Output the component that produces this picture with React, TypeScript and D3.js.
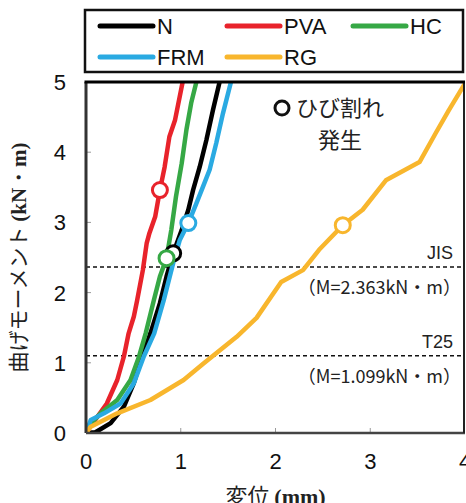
import React from "react";
import * as d3 from "d3";

// 変位 (mm) vs 曲げモーメント (kN・m)
const seriesN: [number, number][] = [
  [0, 0], [0.1, 0.01], [0.26, 0.14], [0.4, 0.375], [0.505, 0.71], [0.59, 1.09], [0.68, 1.42],
  [0.78, 1.85], [0.85, 2.23], [0.92, 2.56], [1.01, 2.89], [1.08, 3.18], [1.13, 3.46],
  [1.2, 3.79], [1.27, 4.17], [1.34, 4.6], [1.41, 5.0],
];
const seriesPVA: [number, number][] = [
  [0, 0], [0.05, 0.1], [0.12, 0.23], [0.22, 0.42], [0.33, 0.755], [0.4, 1.09], [0.45, 1.42],
  [0.505, 1.66], [0.54, 1.89], [0.6, 2.32], [0.64, 2.7], [0.67, 2.85], [0.73, 3.08], [0.78, 3.46],
  [0.83, 3.79], [0.88, 4.22], [0.94, 4.46], [1.02, 5.0],
];
const seriesHC: [number, number][] = [
  [0, 0], [0.06, 0.15], [0.155, 0.28], [0.33, 0.47], [0.47, 0.755], [0.56, 1.09], [0.63, 1.42],
  [0.716, 1.89], [0.78, 2.23], [0.85, 2.49], [0.9, 2.89], [0.95, 3.37], [1.01, 3.84],
  [1.06, 4.32], [1.11, 4.7], [1.165, 5.0],
];
const seriesFRM: [number, number][] = [
  [0, 0], [0.05, 0.185], [0.19, 0.28], [0.365, 0.42], [0.505, 0.71], [0.61, 1.09], [0.72, 1.42],
  [0.82, 1.89], [0.92, 2.42], [0.99, 2.75], [1.08, 2.99], [1.165, 3.27],
  [1.235, 3.51], [1.305, 3.75], [1.375, 4.13], [1.445, 4.55], [1.53, 5.0],
];
const seriesRG: [number, number][] = [
  [0, 0], [0.05, 0.09], [0.33, 0.28], [0.68, 0.47], [1.03, 0.755], [1.24, 0.99],
  [1.59, 1.37], [1.8, 1.64], [2.06, 2.15], [2.29, 2.32], [2.46, 2.61], [2.71, 2.96],
  [2.92, 3.18], [3.165, 3.6], [3.52, 3.86], [3.69, 4.27], [3.83, 4.6], [4.0, 4.98],
];

// ひび割れ発生 points
const crackN: [number, number] = [0.92, 2.56];
const crackPVA: [number, number] = [0.78, 3.46];
const crackHC: [number, number] = [0.85, 2.49];
const crackFRM: [number, number] = [1.08, 2.99];
const crackRG: [number, number] = [2.71, 2.96];

const names = ["N", "PVA", "HC", "FRM", "RG"];
const colors = ["#000000", "#e8232b", "#36a845", "#2aaae2", "#f8b62d"];

const xTicks = [0, 1, 2, 3, 4];
const yTicks = [0, 1, 2, 3, 4, 5];

const refLines = [
  { label: "JIS", value: 2.363, text: "（M=2.363kN・m）" },
  { label: "T25", value: 1.099, text: "（M=1.099kN・m）" },
];

const width = 466;
const height = 503;
const margin = { left: 86, right: 1, top: 82, bottom: 70 };

const sans = "'Liberation Sans', Arial, sans-serif";
const jp = "'Noto Sans CJK JP', sans-serif";
const serif = "'Liberation Serif', 'Times New Roman', serif";

export default function App() {
  const x = d3.scaleLinear().domain([0, 4]).range([margin.left, width - margin.right]);
  const y = d3.scaleLinear().domain([0, 5]).range([height - margin.bottom, margin.top]);

  const line = d3.line<[number, number]>()
    .x(d => x(d[0]))
    .y(d => y(d[1]));

  const series = [seriesN, seriesPVA, seriesHC, seriesFRM, seriesRG];
  const cracks = [crackN, crackPVA, crackHC, crackFRM, crackRG];

  const x0 = x(0), x1 = x(4), y0 = y(0), y1 = y(5);

  // legend layout: 3 columns, 2 rows
  const legendCols = [100, 227, 353];
  const legendRows = [26, 57];

  return (
    <svg width={width} height={height} style={{ position: "absolute", left: 0, top: 0, background: "#fff" }}>
      <defs>
        <clipPath id="plot">
          <rect x={x0} y={y1} width={x1 - x0} height={y0 - y1} />
        </clipPath>
      </defs>

      {/* legend */}
      <rect x={85} y={10} width={378} height={62} fill="#fff" stroke="#111" strokeWidth={2.5} />
      {names.map((n, i) => {
        const cx = legendCols[i % 3];
        const cy = legendRows[Math.floor(i / 3)];
        return (
          <g key={n}>
            <line x1={cx} x2={cx + 53} y1={cy} y2={cy} stroke={colors[i]} strokeWidth={5} strokeLinecap="round" />
            <text x={cx + 57} y={cy + 8} fontFamily={sans} fontSize={22} fill="#111">{n}</text>
          </g>
        );
      })}

      {/* reference lines */}
      {refLines.map(r => (
        <g key={r.label}>
          <line x1={x0} x2={x1} y1={y(r.value)} y2={y(r.value)} stroke="#111" strokeWidth={1.5} strokeDasharray="4,3" />
          <text x={453} y={y(r.value) - 8} textAnchor="end" fontFamily={sans} fontSize={18} fill="#222">{r.label}</text>
          <text x={461} y={y(r.value) + 27} textAnchor="end" fontFamily={jp} fontSize={18} fill="#222">{r.text}</text>
        </g>
      ))}

      {/* ticks (inward) */}
      {yTicks.slice(1, -1).map(t => (
        <line key={"yt" + t} x1={x0} x2={x0 + 5} y1={y(t)} y2={y(t)} stroke="#999" strokeWidth={1} />
      ))}
      {xTicks.slice(1, -1).map(t => (
        <line key={"xt" + t} x1={x(t)} x2={x(t)} y1={y0} y2={y0 - 5} stroke="#999" strokeWidth={1} />
      ))}

      {/* curves */}
      <g clipPath="url(#plot)">
        {series.map((s, i) => (
          <path key={names[i]} d={line(s) || ""} fill="none" stroke={colors[i]} strokeWidth={4.5} strokeLinejoin="round" />
        ))}
      </g>
      {cracks.map((c, i) => (
        <circle key={"c" + i} cx={x(c[0])} cy={y(c[1])} r={7.5} fill="#fff" stroke={colors[i]} strokeWidth={3} />
      ))}

      {/* frame */}
      <line x1={x0} x2={x0} y1={y1} y2={y0} stroke="#333" strokeWidth={3} />
      <line x1={x0} x2={x1} y1={y0} y2={y0} stroke="#444" strokeWidth={2.5} />
      <line x1={x1 - 1} x2={x1 - 1} y1={y1} y2={y0} stroke="#222" strokeWidth={2} />
      <line x1={x0 - 1.5} x2={x1} y1={y1} y2={y1} stroke="#000" strokeWidth={3} />

      {/* annotation */}
      <circle cx={282} cy={108} r={7} fill="#fff" stroke="#111" strokeWidth={3} />
      <text x={296} y={116} fontFamily={jp} fontSize={22} fill="#222">ひび割れ</text>
      <text x={340} y={148} textAnchor="middle" fontFamily={jp} fontSize={22} fill="#222">発生</text>

      {/* tick labels */}
      {yTicks.map(t => (
        <text key={"yl" + t} x={66} y={y(t) + 8} textAnchor="end" fontFamily={sans} fontSize={22} fill="#111">{t}</text>
      ))}
      {xTicks.map(t => (
        <text key={"xl" + t} x={x(t)} y={469} textAnchor="middle" fontFamily={sans} fontSize={22} fill="#111">{t}</text>
      ))}

      {/* axis titles */}
      <text x={x((0 + 4) / 2)} y={504} textAnchor="middle" fontSize={22} fill="#222">
        <tspan fontFamily={jp}>変位 </tspan>
        <tspan fontFamily={serif} fontWeight="bold">(mm)</tspan>
      </text>
      <text transform={`translate(26,${(y0 + y1) / 2}) rotate(-90)`} textAnchor="middle" fontSize={21} fill="#222">
        <tspan fontFamily={jp}>曲げモーメント </tspan>
        <tspan fontFamily={serif} fontWeight="bold">(kN・m)</tspan>
      </text>
    </svg>
  );
}
